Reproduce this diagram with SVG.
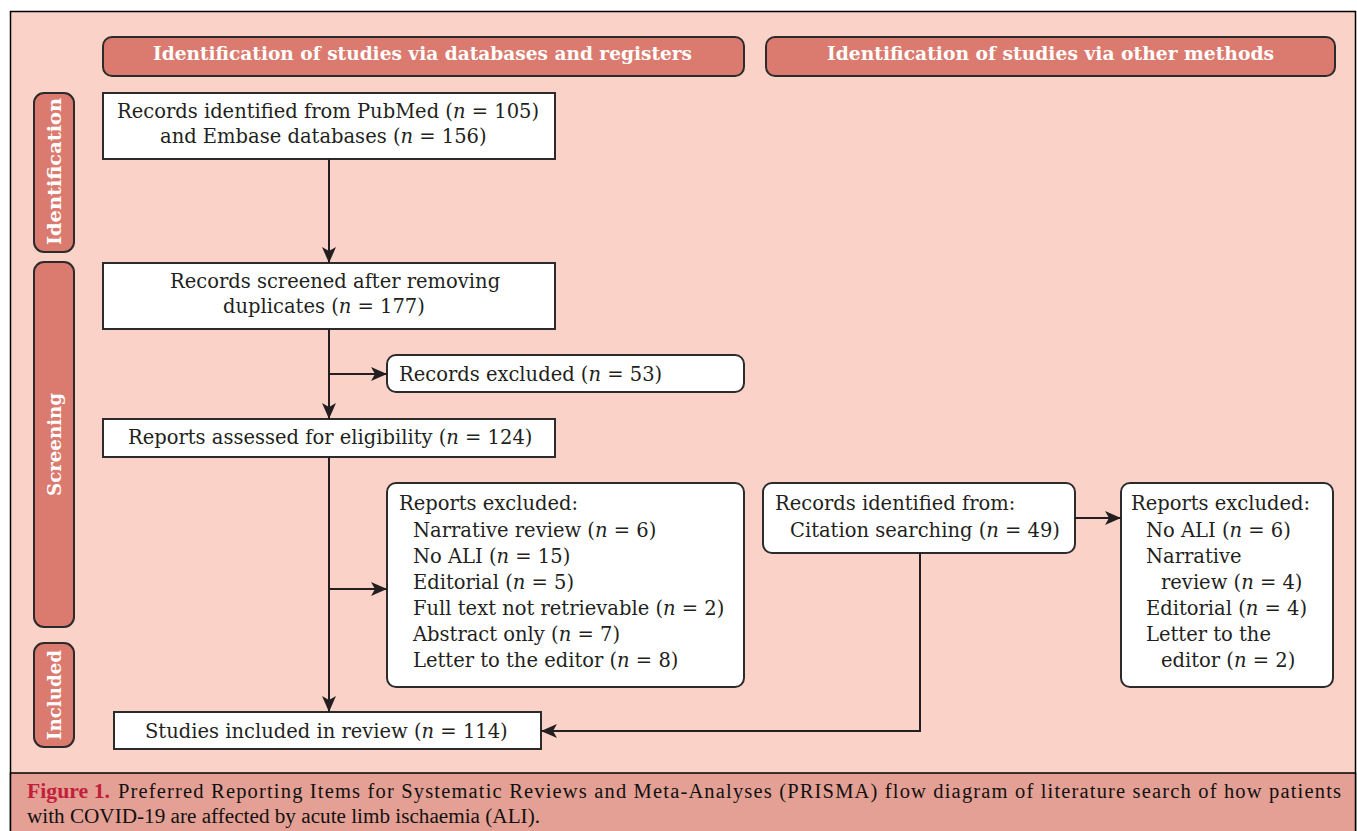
<svg xmlns="http://www.w3.org/2000/svg" width="1357" height="831" viewBox="0 0 1357 831">
<style>
.t{font-family:"DejaVu Serif","Liberation Serif",serif;font-size:19.5px;fill:#231F20}
.i{font-style:italic}
.hb{font-family:"DejaVu Serif","Liberation Serif",serif;font-size:19px;font-weight:bold;fill:#FFFFFF}
.hdr{fill:#DB7A6E;stroke:#2B2B2B;stroke-width:2}
.box{fill:#FFFFFF;stroke:#2B2B2B;stroke-width:2}
.con{fill:none;stroke:#231F20;stroke-width:2;marker-end:url(#arr)}
.cap{font-family:"Liberation Serif","DejaVu Serif",serif;font-size:20.5px;fill:#111111}
</style>
<defs>
<marker id="arr" viewBox="0 0 16 14" refX="16" refY="7" markerWidth="16" markerHeight="14" markerUnits="userSpaceOnUse" orient="auto">
<path d="M0,0 L16,7 L0,14 L4,7 z" fill="#231F20"/>
</marker>
</defs>
<rect x="0" y="0" width="1357" height="831" fill="#FFFFFF"/>
<rect x="10.5" y="11.5" width="1345" height="830" fill="#FAD2C8" stroke="#000000" stroke-width="1.5"/>
<rect x="10.5" y="773" width="1345" height="60" fill="#E4A094" stroke="#000000" stroke-width="1.5"/>

<g id="header-databases">
<rect class="hdr" x="103" y="37" width="641" height="39" rx="9"/>
<text class="hb" x="153" y="60" textLength="539" lengthAdjust="spacingAndGlyphs">Identification of studies via databases and registers</text>
</g>
<g id="header-other">
<rect class="hdr" x="766" y="37" width="569" height="39" rx="9"/>
<text class="hb" x="827" y="60" textLength="447" lengthAdjust="spacingAndGlyphs">Identification of studies via other methods</text>
</g>

<g id="label-identification">
<rect class="hdr" x="34" y="93" width="40" height="159" rx="10"/>
<text class="hb" transform="translate(61,245) rotate(-90)" x="0" y="0" textLength="147" lengthAdjust="spacingAndGlyphs">Identification</text>
</g>
<g id="label-screening">
<rect class="hdr" x="34" y="262" width="40" height="365" rx="10"/>
<text class="hb" transform="translate(61,496) rotate(-90)" x="0" y="0" textLength="103" lengthAdjust="spacingAndGlyphs">Screening</text>
</g>
<g id="label-included">
<rect class="hdr" x="34" y="643" width="40" height="104" rx="10"/>
<text class="hb" transform="translate(61,740) rotate(-90)" x="0" y="0" textLength="90" lengthAdjust="spacingAndGlyphs">Included</text>
</g>

<g id="records-identified">
<rect class="box" x="103" y="93" width="452" height="66"/>
<text class="t" x="117" y="117.5">Records identified from PubMed (<tspan class="i">n</tspan> = 105)</text>
<text class="t" x="160" y="143">and Embase databases (<tspan class="i">n</tspan> = 156)</text>
</g>

<g id="records-screened">
<rect class="box" x="103" y="263" width="452" height="66"/>
<text class="t" x="170" y="288">Records screened after removing</text>
<text class="t" x="223" y="313">duplicates (<tspan class="i">n</tspan> = 177)</text>
</g>

<g id="records-excluded">
<rect class="box" x="387" y="355" width="357" height="37" rx="9"/>
<text class="t" x="399" y="381">Records excluded (<tspan class="i">n</tspan> = 53)</text>
</g>

<g id="reports-assessed">
<rect class="box" x="103" y="419" width="452" height="38"/>
<text class="t" x="128" y="444">Reports assessed for eligibility (<tspan class="i">n</tspan> = 124)</text>
</g>

<g id="reports-excluded">
<rect class="box" x="387" y="483" width="357" height="204" rx="9"/>
<text class="t" x="399" y="510">Reports excluded:</text>
<text class="t" x="413" y="536.5">Narrative review (<tspan class="i">n</tspan> = 6)</text>
<text class="t" x="413" y="562.5">No ALI (<tspan class="i">n</tspan> = 15)</text>
<text class="t" x="413" y="588.5">Editorial (<tspan class="i">n</tspan> = 5)</text>
<text class="t" x="413" y="614.5">Full text not retrievable (<tspan class="i">n</tspan> = 2)</text>
<text class="t" x="413" y="640.5">Abstract only (<tspan class="i">n</tspan> = 7)</text>
<text class="t" x="413" y="666.5">Letter to the editor (<tspan class="i">n</tspan> = 8)</text>
</g>

<g id="records-other">
<rect class="box" x="763" y="483" width="312" height="70" rx="9"/>
<text class="t" x="775" y="510">Records identified from:</text>
<text class="t" x="790" y="536.5">Citation searching (<tspan class="i">n</tspan> = 49)</text>
</g>

<g id="reports-excluded-other">
<rect class="box" x="1121" y="483" width="212" height="204" rx="9"/>
<text class="t" x="1131" y="510">Reports excluded:</text>
<text class="t" x="1146" y="536.5">No ALI (<tspan class="i">n</tspan> = 6)</text>
<text class="t" x="1146" y="562.5">Narrative</text>
<text class="t" x="1161" y="588.5">review (<tspan class="i">n</tspan> = 4)</text>
<text class="t" x="1146" y="614.5">Editorial (<tspan class="i">n</tspan> = 4)</text>
<text class="t" x="1146" y="640.5">Letter to the</text>
<text class="t" x="1161" y="666.5">editor (<tspan class="i">n</tspan> = 2)</text>
</g>

<g id="studies-included">
<rect class="box" x="114" y="712" width="427" height="37"/>
<text class="t" x="145" y="738">Studies included in review (<tspan class="i">n</tspan> = 114)</text>
</g>

<g id="connectors">
<path class="con" d="M329,159 V263"/>
<path class="con" d="M329,329 V419"/>
<path class="con" d="M329,374 H387"/>
<path class="con" d="M329,457 V712"/>
<path class="con" d="M329,589 H387"/>
<path class="con" d="M1075,518 H1121"/>
<path class="con" d="M920,553 V731 H541"/>
</g>

<g id="caption">
<text class="cap" x="27" y="798" font-weight="bold" style="fill:#C2203A" textLength="83" lengthAdjust="spacingAndGlyphs">Figure 1.</text>
<text class="cap" x="118" y="798" textLength="1223" lengthAdjust="spacing">Preferred Reporting Items for Systematic Reviews and Meta-Analyses (PRISMA) flow diagram of literature search of how patients</text>
<text class="cap" x="27" y="823" textLength="513" lengthAdjust="spacingAndGlyphs">with COVID-19 are affected by acute limb ischaemia (ALI).</text>
</g>
</svg>
